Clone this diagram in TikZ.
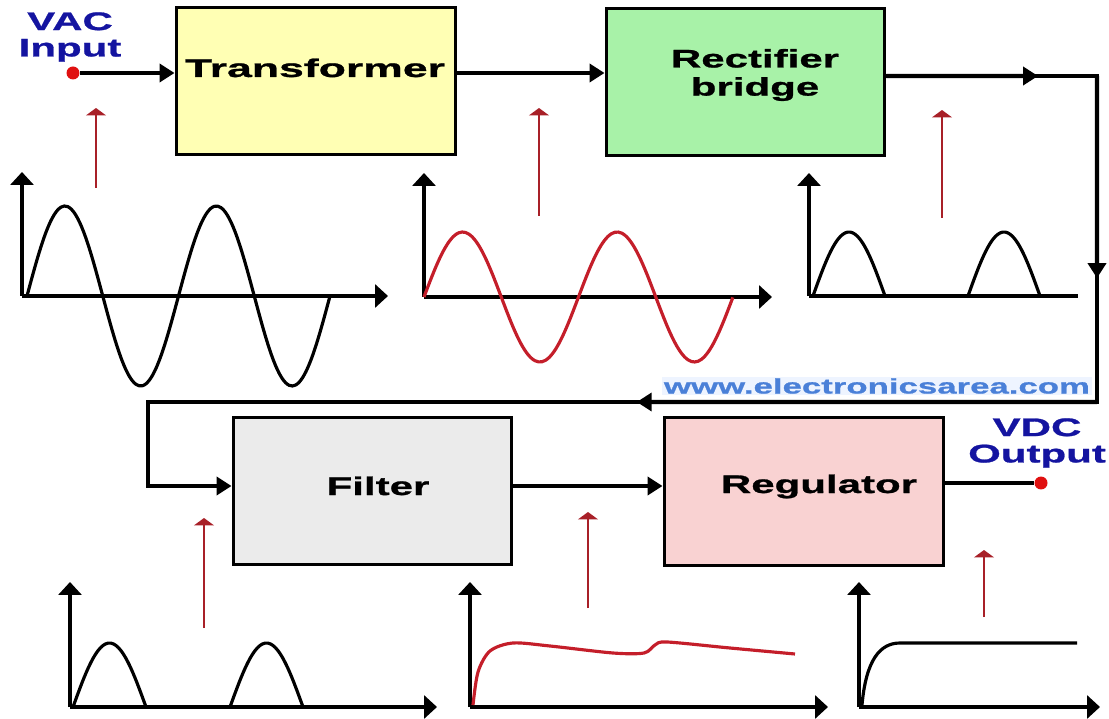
\documentclass[tikz,border=0pt]{standalone}
\usepackage{fontspec}
\usepackage{xcolor}
\usepackage{tikz}
\usetikzlibrary{arrows.meta,positioning,calc}
\newfontfamily\widefont[FakeStretch=1.65, FakeBold=1]{Liberation Sans}
\definecolor{transfill}{HTML}{FFFFB4}
\definecolor{rectfill}{HTML}{A8F2A8}
\definecolor{filtfill}{HTML}{EBEBEB}
\definecolor{regfill}{HTML}{F9D2D2}
\definecolor{ioblue}{HTML}{1414A0}
\definecolor{dotred}{HTML}{E01010}
\definecolor{markred}{HTML}{A82028}
\definecolor{wavered}{HTML}{C41E2A}
\definecolor{wwwblue}{HTML}{4A80D8}
\definecolor{wwwbg}{HTML}{EEF4FF}
\tikzset{
  blockbox/.style={draw=black, line width=1.7pt, minimum width=5.6cm, minimum height=2.96cm, inner sep=0pt},
  blocktext/.style={font=\widefont\bfseries\fontsize{14.5}{16}\selectfont, align=center, inner sep=0pt},
  iotext/.style={font=\widefont\bfseries\fontsize{14.5}{15}\selectfont, text=ioblue, align=center, inner sep=0pt},
  dot/.style={circle, fill=dotred, inner sep=0pt, minimum size=0.26cm},
  wire/.style={line width=2.5pt, -{Triangle[length=0.3cm,width=0.36cm]}},
  wireplain/.style={line width=2.5pt},
  axisline/.style={line width=2pt, -{Triangle[length=0.26cm,width=0.46cm]}},
  wave/.style={line width=1.8pt},
  marker/.style={draw=markred, line width=1.6pt, -{Triangle[length=0.15cm,width=0.4cm]}},
  wwwtext/.style={font=\widefont\bfseries\fontsize{12}{12}\selectfont, text=wwwblue, fill=wwwbg, inner sep=1pt}
}
\begin{document}
\begin{tikzpicture}[x=0.02cm, y=-0.02cm]
  \useasboundingbox (0,0) rectangle (1109,719);

  % blocks
  \node[blockbox, fill=transfill] (trans) at (316,81) {};
  \node[blockbox, fill=rectfill, minimum width=5.58cm] (rect) at (745.5,82) {};
  \node[blockbox, fill=filtfill, minimum width=5.58cm] (filt) at (372.5,491) {};
  \node[blockbox, fill=regfill, minimum height=2.98cm] (reg) at (804,491.5) {};
  \node[blocktext, anchor=base, xscale=1.06] (transtext) at (315,77) {Transformer};
  \node[blocktext] (recttext) at (755,75) {Rectifier\\bridge};
  \node[blocktext, anchor=base] (filttext) at (378,495) {Filter};
  \node[blocktext, anchor=base] (regtext) at (819,493) {Regulator};

  % input / output
  \node[iotext] (vactext) at (70,37) {VAC\\Input};
  \node[iotext] (vdctext) at (1037,443) {VDC\\Output};
  \node[dot] (vin) at (73,73) {};
  \node[dot] (vout) at (1041,483) {};
  \node[wwwtext] (www) at (877,386) {www.electronicsarea.com};

  % signal path
  \coordinate (ne) at (1097,76);
  \coordinate (se) at (1097,402);
  \coordinate (sw) at (148,402);
  \coordinate (fin) at (148,486);
  \draw[wire] (vin) -- (vin -| trans.west);
  \draw[wire] (vin -| trans.east) -- (vin -| rect.west);
  \draw[wire] (ne -| rect.east) -- (ne) -- (se) -- (sw) -- (fin) -- (fin -| filt.west);
  \draw[wire] (ne -| rect.east) -- ($(ne -| rect.east)!0.72!(ne)$);
  \draw[wire] (ne) -- ($(ne)!0.62!(se)$);
  \draw[wire] (se) -- ($(se)!0.485!(sw)$);
  \draw[wire] (fin -| filt.east) -- (fin -| reg.west);
  \draw[wireplain] (vout -| reg.east) -- (vout);

  % red pointers
  \foreach \px/\ya/\yb in {96/188/108, 539/216/108, 942/218/110, 204/628/518, 588/608/512, 984/617/550}
    \draw[marker] (\px,\ya) -- (\px,\yb);

  % AC input
  \draw[axisline] (22,296) -- (22,172);
  \draw[axisline] (22,296) -- (388,296);
  \draw[wave] plot[domain=0:2, samples=90, smooth] ({27+151.5*\x}, {296-90*sin(360*\x)});

  % transformer output
  \draw[axisline] (424,297) -- (424,173);
  \draw[axisline] (424,297) -- (772,297);
  \draw[wave, draw=wavered] plot[domain=0:2, samples=90, smooth] ({424+154.5*\x}, {297-65*sin(360*\x)});

  % rectifier output
  \draw[axisline] (809,296) -- (809,173);
  \draw[line width=2pt] (809,296) -- (1078,296);
  \foreach \s in {813,968}
    \draw[wave] plot[domain=0:1, samples=30, smooth] ({\s+72*\x}, {296-64*sin(180*\x)});

  % filter input
  \draw[axisline] (70,707) -- (70,582);
  \draw[axisline] (70,707) -- (437,707);
  \foreach \s in {73,230}
    \draw[wave] plot[domain=0:1, samples=30, smooth] ({\s+73*\x}, {707-64*sin(180*\x)});

  % filter output
  \draw[axisline] (470,707) -- (470,582);
  \draw[axisline] (470,707) -- (828,707);
  \draw[wave, draw=wavered] plot[smooth, tension=0.5] coordinates {(473,705) (478,672) (490,651) (513,643) (550,646) (613,653) (644,653) (655,645) (667,642) (730,648) (795,654)};

  % regulator output
  \draw[axisline] (859,707) -- (859,582);
  \draw[axisline] (859,707) -- (1100,707);
  \draw[wave] (862,705) .. controls (866,660) and (880,643) .. (900,643) -- (1077,643);
\end{tikzpicture}
\end{document}
